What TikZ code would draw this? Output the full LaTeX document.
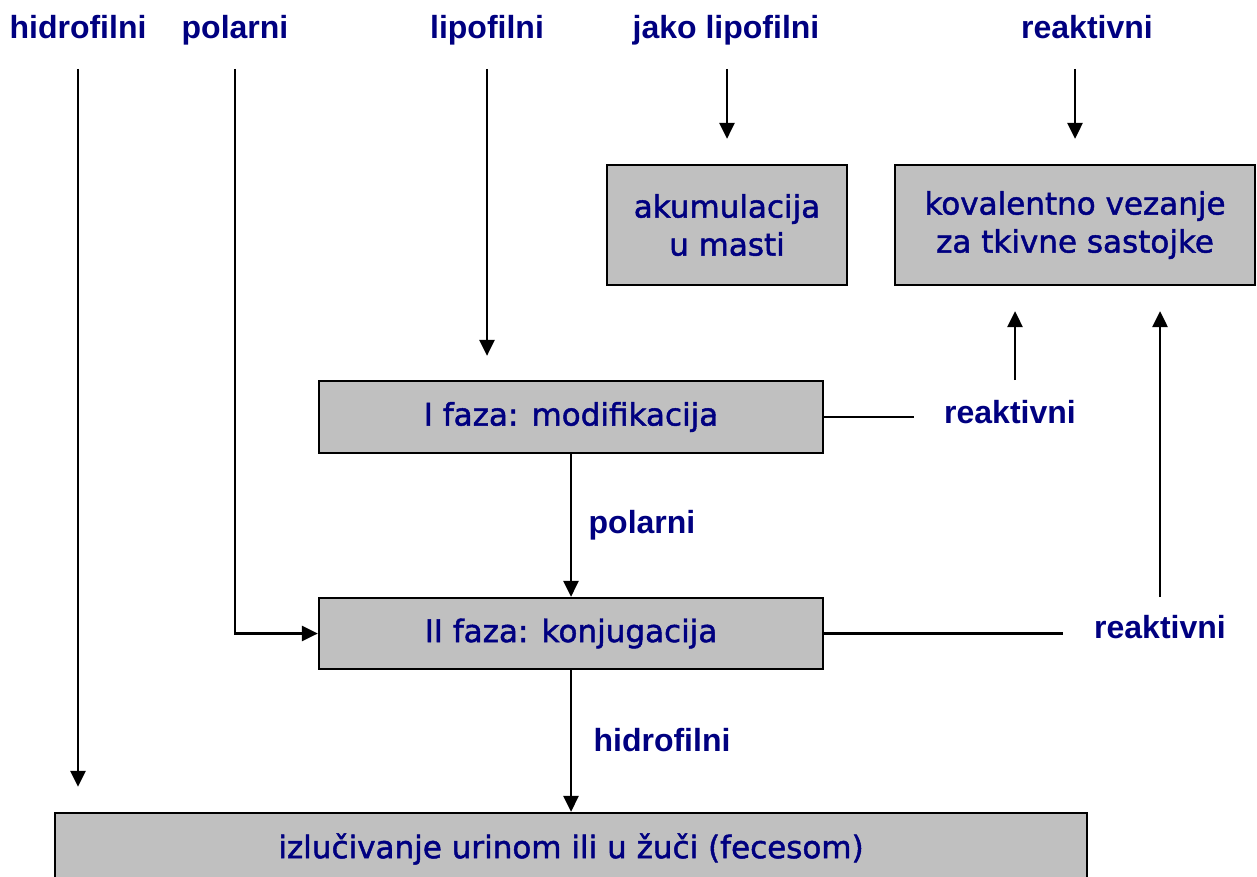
\documentclass[tikz,border=0pt]{standalone}
\usepackage{fontspec}
\setmainfont{Liberation Sans}
\newfontfamily\boxfont[FakeBold=1.5]{DejaVu Sans}
\usetikzlibrary{arrows.meta}
\definecolor{labelblue}{RGB}{0,0,128}
\definecolor{boxgray}{RGB}{192,192,192}
\tikzset{
  lbl/.style={text=labelblue, font=\fontsize{16}{18}\selectfont\bfseries, inner sep=0pt, anchor=base},
  stage/.style={draw=black, line width=1.1pt, fill=boxgray, text=labelblue,
    font=\boxfont\fontsize{15.5}{19}\selectfont, align=center, inner sep=0pt},
  arr/.style={line width=1.4pt, -{Triangle[length=8pt,width=7.5pt]}},
  ln/.style={line width=1.4pt}
}
\begin{document}
\begin{tikzpicture}[x=0.5pt,y=-0.5pt]
  \useasboundingbox (0,0) rectangle (1257,877);
  % labels
  \draw
    (78,39) node[lbl] (hidro){hidrofilni}
    (235,39) node[lbl] (polar){polarni}
    (487,39) node[lbl] (lipo){lipofilni}
    (726,39) node[lbl] (jako){jako lipofilni}
    (1087,39) node[lbl] (reak){reaktivni}
    (1010,423) node[lbl] (reakI){reaktivni}
    (1160,638) node[lbl] (reakII){reaktivni}
    (642,533) node[lbl] (polarII){polarni}
    (662,751) node[lbl] (hidroII){hidrofilni};
  % boxes
  \draw
    (727,225) node[stage, minimum width=120pt, minimum height=60pt] (akum){akumulacija\\u masti}
    (1075,225) node[stage, minimum width=180pt, minimum height=60pt] (koval){kovalentno vezanje\\za tkivne sastojke}
    (571,417) node[stage, minimum width=252pt, minimum height=36pt] (fazaI){I faza: modifikacija}
    (571,633.5) node[stage, minimum width=252pt, minimum height=35.5pt] (fazaII){II faza: konjugacija}
    (571,849) node[stage, minimum width=516pt, minimum height=36pt] (izluc){izlučivanje urinom ili u žuči (fecesom)};
  % connectors
  \begin{scope}[shorten <=15pt]
    \draw[arr, shorten >=12.5pt] (hidro.base) -- (hidro.base |- izluc.north);
    \draw[arr] (polar.base) |- (fazaII.west);
    \draw[arr, shorten >=12pt] (lipo.base) -- (lipo.base |- fazaI.north);
    \draw[arr, shorten >=12.5pt] (akum |- jako.base) -- (akum.north);
    \draw[arr, shorten >=12.5pt] (koval |- reak.base) -- (koval.north);
  \end{scope}
  \draw[arr] (fazaI) -- (fazaII);
  \draw[arr] (fazaII) -- (izluc);
  \draw[ln] (fazaI.east) -- ++(90,0);
  \draw[ln] (fazaII.east) -- ++(239,0);
  \draw[arr, shorten <=21.5pt, shorten >=12.5pt] ([xshift=2.5pt]reakI.base) -- ([xshift=2.5pt]reakI.base |- koval.south);
  \draw[arr, shorten <=20.5pt, shorten >=12.5pt] (reakII.base) -- (reakII.base |- koval.south);
\end{tikzpicture}
\end{document}
